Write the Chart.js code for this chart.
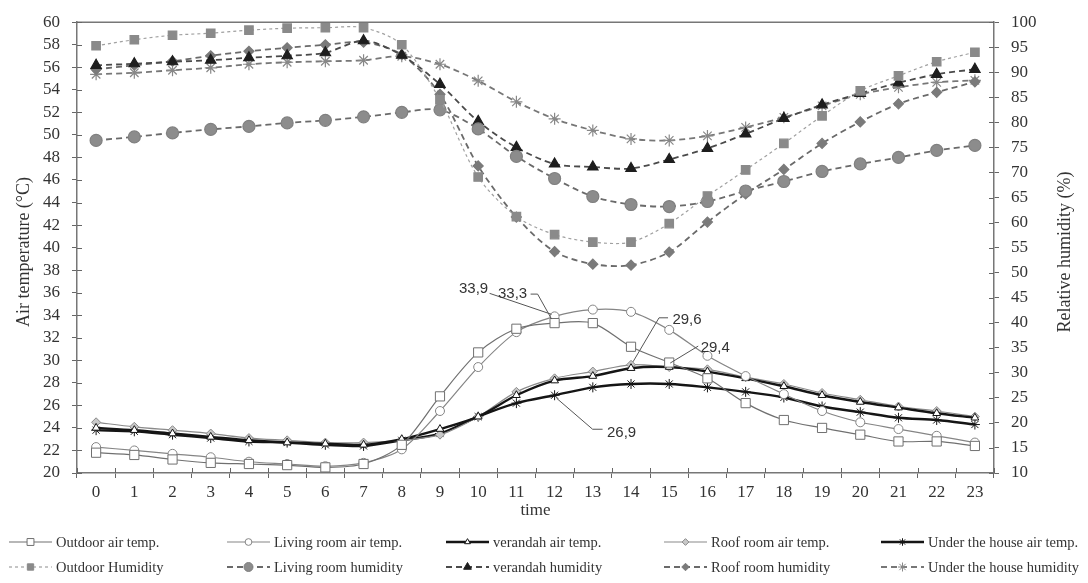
<!DOCTYPE html>
<html>
<head>
<meta charset="utf-8">
<script src="https://cdn.jsdelivr.net/npm/chart.js@4.4.0/dist/chart.umd.min.js"></script>
<style>
  html, body { margin: 0; padding: 0; background: #fff; }
  #wrap { width: 1088px; height: 583px; }
</style>
</head>
<body>
<div id="wrap"><canvas id="chart" width="1088" height="583"></canvas></div>
<script>
// --- data ---
const hours = ["0", "1", "2", "3", "4", "5", "6", "7", "8", "9", "10", "11",
  "12", "13", "14", "15", "16", "17", "18", "19", "20", "21", "22", "23"];

// air temperature (°C), left axis
const outdoorTemp = [21.8, 21.6, 21.2, 20.9, 20.8, 20.7, 20.5, 20.8, 22.5, 26.8, 30.7, 32.8,
  33.3, 33.3, 31.2, 29.8, 28.4, 26.2, 24.7, 24.0, 23.4, 22.8, 22.8, 22.4];
const livingTemp = [22.3, 22.0, 21.7, 21.4, 21.0, 20.8, 20.6, 20.9, 22.1, 25.5, 29.4, 32.5,
  33.9, 34.5, 34.3, 32.7, 30.4, 28.6, 27.0, 25.5, 24.5, 23.9, 23.3, 22.7];
const verandahTemp = [24.0, 23.8, 23.5, 23.2, 22.9, 22.7, 22.6, 22.5, 23.0, 23.9, 25.0, 26.9,
  28.2, 28.6, 29.3, 29.4, 29.0, 28.4, 27.7, 26.9, 26.3, 25.8, 25.3, 24.9];
const roofTemp = [24.5, 24.1, 23.8, 23.5, 23.1, 22.9, 22.7, 22.7, 22.9, 23.4, 25.0, 27.2,
  28.4, 29.0, 29.6, 29.4, 29.2, 28.5, 27.9, 27.1, 26.5, 25.9, 25.5, 25.0];
const underTemp = [23.8, 23.7, 23.4, 23.1, 22.8, 22.7, 22.5, 22.4, 22.9, 23.5, 25.0, 26.2,
  26.9, 27.6, 27.9, 27.9, 27.6, 27.2, 26.7, 25.9, 25.4, 24.9, 24.7, 24.3];

// relative humidity (%), right axis
const outdoorRH = [95.3, 96.5, 97.4, 97.8, 98.4, 98.8, 98.9, 98.9, 95.5, 84.5, 69.1, 61.2,
  57.6, 56.1, 56.1, 59.8, 65.3, 70.5, 75.8, 81.3, 86.3, 89.3, 92.1, 94.0];
const livingRH = [76.4, 77.1, 77.9, 78.6, 79.2, 79.9, 80.4, 81.1, 82.0, 82.5, 78.7, 73.2,
  68.8, 65.2, 63.6, 63.2, 64.2, 66.3, 68.2, 70.2, 71.7, 73.0, 74.4, 75.4];
const verandahRH = [91.4, 91.7, 92.1, 92.4, 92.9, 93.3, 93.9, 96.3, 93.4, 87.6, 80.2, 75.0,
  71.7, 71.1, 70.8, 72.6, 74.8, 77.7, 80.8, 83.5, 85.8, 87.9, 89.6, 90.6];
const roofRH = [90.6, 91.4, 92.2, 93.3, 94.2, 94.9, 95.5, 96.0, 93.5, 85.6, 71.3, 61.1,
  54.2, 51.7, 51.5, 54.1, 60.1, 65.7, 70.6, 75.8, 80.1, 83.7, 86.0, 88.1];
const underRH = [89.6, 89.9, 90.4, 90.9, 91.6, 92.0, 92.2, 92.4, 93.2, 91.6, 88.3, 84.1,
  80.7, 78.4, 76.7, 76.4, 77.3, 79.0, 81.0, 83.3, 85.6, 87.0, 88.0, 88.4];

// callout values written on the chart, tied to a series and an hour
const calloutText = ["33,9", "33,3", "29,6", "29,4", "26,9"];
const calloutSeries = [1, 0, 3, 2, 4];
const calloutHour = [12, 12, 14, 15, 12];

// --- styling ---
const serif = "'Liberation Serif', 'Times New Roman', serif";
const sans = "'Liberation Sans', Arial, sans-serif";

function tempSet(label, data, color, width, style, radius, fill) {
  return {
    label, data, yAxisID: "y",
    borderColor: color, borderWidth: width,
    pointStyle: style, pointRadius: radius,
    pointBackgroundColor: fill, pointBorderColor: color, pointBorderWidth: 1,
    tension: 0.3, fill: false,
  };
}

function rhSet(label, data, color, width, dash, style, radius, fill, markerColor) {
  return {
    label, data, yAxisID: "y1",
    borderColor: color, borderWidth: width, borderDash: dash,
    pointStyle: style, pointRadius: radius,
    pointBackgroundColor: fill, pointBorderColor: markerColor, pointBorderWidth: 1.2,
    tension: 0.3, fill: false,
  };
}

const datasets = [
  tempSet("Outdoor air temp.", outdoorTemp, "#707070", 1.2, "rect", 6.5, "#fff"),
  tempSet("Living room air temp.", livingTemp, "#858585", 1.2, "circle", 4.5, "#fff"),
  tempSet("verandah air temp.", verandahTemp, "#151515", 2.4, "triangle", 4.5, "#fff"),
  tempSet("Roof room air temp.", roofTemp, "#8a8a8a", 1.2, "rectRot", 4.5, "#c8c8c8"),
  tempSet("Under the house air temp.", underTemp, "#151515", 2.4, "star", 5, "#fff"),
  rhSet("Outdoor Humidity", outdoorRH, "#a0a0a0", 1.2, [3, 3], "rect", 6, "#8a8a8a", "#8a8a8a"),
  rhSet("Living room humidity", livingRH, "#6a6a6a", 1.8, [6, 4], "circle", 6, "#8c8c8c", "#808080"),
  rhSet("verandah humidity", verandahRH, "#4a4a4a", 1.8, [6, 4], "triangle", 6, "#1e1e1e", "#1e1e1e"),
  rhSet("Roof room humidity", roofRH, "#6a6a6a", 1.8, [6, 4], "rectRot", 5, "#7a7a7a", "#7a7a7a"),
  rhSet("Under the house humidity", underRH, "#777", 1.8, [6, 4], "star", 6, "#fff", "#888"),
];

// callout placement, pixels relative to the data point
const calloutLayout = [
  { text: [-81, -27], path: [[-65, -23], [-3, -2]] },
  { text: [-42, -29], path: [[-24, -29], [-17, -29], [-3, -4]] },
  { text: [56, -45], path: [[37, -47], [28, -47], [2, -3]] },
  { text: [46, -19], path: [[29, -21], [1, -4]] },
  { text: [67, 38], path: [[48, 34], [38, 34], [2, 3]] },
];

const legendCols = [9, 227, 446, 664, 881];
const legendRows = [542, 567];

function line(ctx, x1, y1, x2, y2) {
  ctx.beginPath();
  ctx.moveTo(x1, y1);
  ctx.lineTo(x2, y2);
  ctx.stroke();
}

const decorPlugin = {
  id: "decor",
  afterDraw(chart) {
    const ctx = chart.ctx;
    const area = chart.chartArea;
    const xs = chart.scales.x, yT = chart.scales.y, yH = chart.scales.y1;
    ctx.save();

    // top frame line and inward tick marks
    ctx.strokeStyle = "#777";
    ctx.lineWidth = 1.5;
    line(ctx, area.left, area.top, area.right, area.top);
    ctx.strokeStyle = "#666";
    ctx.lineWidth = 1;
    yT.ticks.forEach((t, i) => {
      const py = Math.round(yT.getPixelForTick(i)) + 0.5;
      line(ctx, area.left, py, area.left + 5, py);
    });
    yH.ticks.forEach((t, i) => {
      const py = Math.round(yH.getPixelForTick(i)) + 0.5;
      line(ctx, area.right - 5, py, area.right, py);
    });
    for (let i = 0; i <= hours.length; i++) {
      const px = Math.round(xs.getPixelForValue(i - 0.5)) + 0.5;
      line(ctx, px, area.bottom - 5, px, area.bottom);
    }

    // axis titles
    ctx.fillStyle = "#333";
    ctx.textAlign = "center";
    ctx.textBaseline = "middle";
    ctx.font = "18px " + serif;
    ctx.save();
    ctx.translate(24, 252);
    ctx.rotate(-Math.PI / 2);
    ctx.fillText("Air temperature (°C)", 0, 0);
    ctx.restore();
    ctx.save();
    ctx.translate(1065, 252);
    ctx.rotate(-Math.PI / 2);
    ctx.fillText("Relative humidity (%)", 0, 0);
    ctx.restore();
    ctx.font = "17px " + serif;
    ctx.fillText("time", (area.left + area.right) / 2, 511);

    // callouts
    ctx.font = "15px " + sans;
    ctx.strokeStyle = "#555";
    ctx.lineWidth = 1;
    calloutText.forEach((txt, k) => {
      const ds = datasets[calloutSeries[k]];
      const scale = chart.scales[ds.yAxisID];
      const px = xs.getPixelForValue(calloutHour[k]);
      const py = scale.getPixelForValue(ds.data[calloutHour[k]]);
      const lay = calloutLayout[k];
      ctx.fillStyle = "#333";
      ctx.fillText(txt, px + lay.text[0], py + lay.text[1]);
      ctx.beginPath();
      lay.path.forEach((p, j) => {
        if (j === 0) ctx.moveTo(px + p[0], py + p[1]);
        else ctx.lineTo(px + p[0], py + p[1]);
      });
      ctx.stroke();
    });

    // legend: two rows of five
    ctx.font = "14.5px " + serif;
    ctx.textAlign = "left";
    datasets.forEach((ds, i) => {
      const row = i < 5 ? 0 : 1;
      const x0 = legendCols[i % 5];
      const y0 = legendRows[row];
      ctx.save();
      ctx.strokeStyle = ds.borderColor;
      ctx.lineWidth = ds.borderWidth;
      ctx.setLineDash(ds.borderDash || []);
      line(ctx, x0, y0, x0 + 43, y0);
      ctx.restore();
      ctx.save();
      ctx.fillStyle = ds.pointBackgroundColor;
      ctx.strokeStyle = ds.pointBorderColor;
      ctx.lineWidth = 1;
      Chart.helpers.drawPoint(ctx, {
        pointStyle: ds.pointStyle,
        radius: ds.pointRadius * 0.75,
        rotation: 0,
        borderWidth: 1,
      }, x0 + 21.5, y0);
      ctx.restore();
      ctx.fillStyle = "#333";
      ctx.fillText(ds.label, x0 + 47, y0 + 1);
    });

    ctx.restore();
  },
};

const axisLine = { color: "#777", width: 1.5 };
const tickFont = { family: serif, size: 17 };

new Chart(document.getElementById("chart"), {
  type: "line",
  data: { labels: hours, datasets: datasets },
  options: {
    responsive: false,
    animation: false,
    layout: { padding: { top: 17, left: 0, right: 0, bottom: 0 } },
    plugins: {
      legend: { display: false },
      tooltip: { enabled: false },
    },
    scales: {
      x: {
        type: "category",
        offset: true,
        grid: { offset: true, drawOnChartArea: false, tickLength: 5, color: "#666" },
        border: axisLine,
        ticks: { color: "#333", font: tickFont, padding: 4, maxRotation: 0, autoSkip: false },
        afterFit(s) { s.height = 110; },
      },
      y: {
        position: "left",
        min: 20,
        max: 60,
        grid: { drawOnChartArea: false, tickLength: 5, color: "#666" },
        border: axisLine,
        ticks: { stepSize: 2, color: "#333", font: tickFont, padding: 12, autoSkip: false },
        afterFit(s) { s.width = 77; },
      },
      y1: {
        position: "right",
        min: 10,
        max: 100,
        grid: { drawOnChartArea: false, tickLength: 5, color: "#666" },
        border: axisLine,
        ticks: { stepSize: 5, color: "#333", font: tickFont, padding: 12, autoSkip: false },
        afterFit(s) { s.width = 94; },
      },
    },
  },
  plugins: [decorPlugin],
});
</script>
</body>
</html>
